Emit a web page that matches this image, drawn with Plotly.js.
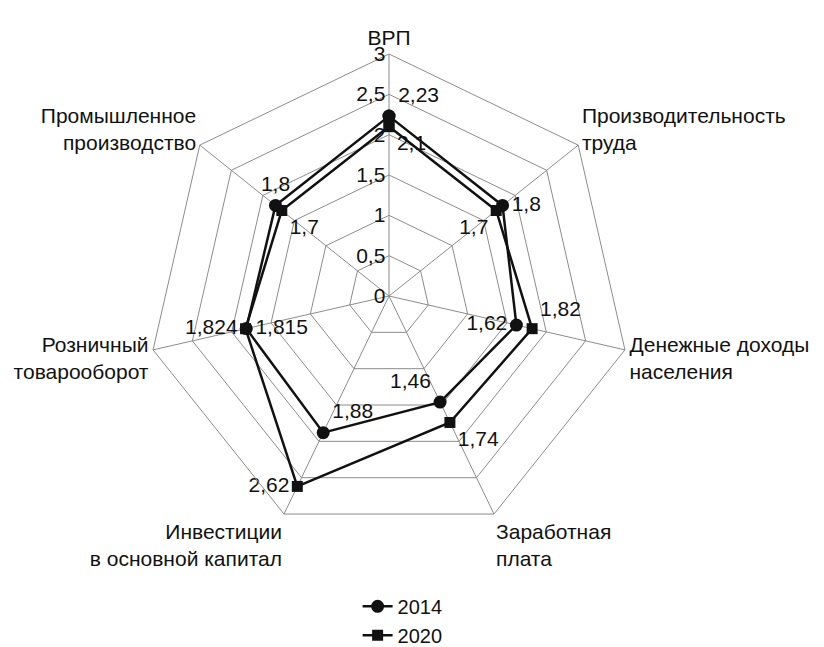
<!DOCTYPE html>
<html>
<head>
<meta charset="utf-8">
<script src="https://cdn.plot.ly/plotly-3.0.1.min.js"></script>
<style>html,body{margin:0;padding:0;background:#fff;overflow:hidden;}#chart{width:824px;height:647px;}</style>
</head>
<body>
<div id="chart"></div>
<script>
// Categories (clockwise from top)
const categories = [
  "ВРП",
  "Производительность<br>труда",
  "Денежные доходы<br>населения",
  "Заработная<br>плата",
  "Инвестиции<br>в основной капитал",
  "Розничный<br>товарооборот",
  "Промышленное<br>производство"
];
const values2014 = [2.23, 1.8, 1.62, 1.46, 1.88, 1.815, 1.8];
const values2020 = [2.1, 1.7, 1.82, 1.74, 2.62, 1.824, 1.7];
const textPos2014 = ["top right", "middle right", "middle left", "top left", "top right", "middle right", "top center"];
const textPos2020 = ["bottom right", "bottom left", "top right", "bottom right", "middle left", "middle left", "bottom right"];
const radialTicks = [0, 0.5, 1, 1.5, 2, 2.5, 3];

const fmt = v => String(v).replace('.', ',');
function closed(arr, fill) { return arr.concat([fill === undefined ? arr[0] : fill]); }

const FONT = "Arial, 'Liberation Sans', sans-serif";
const FS = 21;

const t2014 = {
  type: "scatterpolar",
  name: "2014",
  r: closed(values2014),
  theta: closed(categories),
  mode: "lines+markers+text",
  text: closed(values2014.map(fmt), ""),
  textposition: closed(textPos2014, "top right"),
  textfont: {family: FONT, size: FS, color: "#111"},
  line: {color: "#111", width: 2.5},
  marker: {symbol: "circle", size: 13, color: "#111"},
  cliponaxis: false
};
const t2020 = {
  type: "scatterpolar",
  name: "2020",
  r: closed(values2020),
  theta: closed(categories),
  mode: "lines+markers+text",
  text: closed(values2020.map(fmt), ""),
  textposition: closed(textPos2020, "top right"),
  textfont: {family: FONT, size: FS, color: "#111"},
  line: {color: "#111", width: 2.5},
  marker: {symbol: "square", size: 11, color: "#111"},
  cliponaxis: false
};

const layout = {
  width: 824, height: 647,
  margin: {l: 0, r: 0, t: 0, b: 0, autoexpand: false},
  paper_bgcolor: "#fff",
  plot_bgcolor: "#fff",
  separators: ", ",
  font: {family: FONT, size: FS, color: "#111"},
  showlegend: true,
  legend: {
    x: 0.434, xanchor: "left", y: 0.093, yanchor: "top",
    orientation: "v",
    font: {family: FONT, size: 20, color: "#111"},
    tracegroupgap: 0
  },
  polar: {
    domain: {x: [147/824, 631/824], y: [109/647, 593/647]},
    gridshape: "linear",
    bgcolor: "#fff",
    radialaxis: {
      range: [0, 3],
      tickvals: radialTicks,
      ticktext: radialTicks.map(fmt),
      angle: 90,
      tickangle: 90,
      side: "counterclockwise",
      showline: false,
      ticks: "",
      gridcolor: "#8c8c8c",
      gridwidth: 1,
      tickfont: {family: FONT, size: FS, color: "#111"}
    },
    angularaxis: {
      type: "category",
      categoryarray: categories,
      rotation: 90,
      direction: "clockwise",
      showline: true,
      linecolor: "#8c8c8c",
      linewidth: 1,
      gridcolor: "#8c8c8c",
      gridwidth: 1,
      ticks: "",
      tickfont: {family: FONT, size: FS, color: "#111"}
    }
  }
};

Plotly.newPlot("chart", [t2014, t2020], layout, {displayModeBar: false, staticPlot: true});
</script>
</body>
</html>
